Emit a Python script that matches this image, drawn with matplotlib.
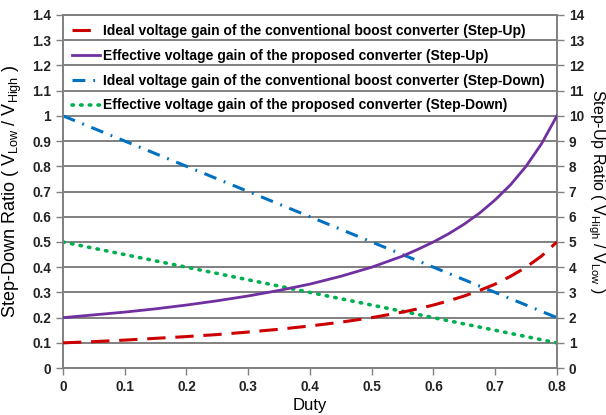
import matplotlib.pyplot as plt
import numpy as np

# Data
duty = [0.0, 0.05, 0.1, 0.15, 0.2, 0.25, 0.3, 0.35, 0.4, 0.45, 0.5, 0.55,
        0.575, 0.6, 0.625, 0.65, 0.675, 0.7, 0.725, 0.75, 0.775, 0.8]
boost_step_up = [1.0, 1.05, 1.11, 1.18, 1.25, 1.33, 1.43, 1.54, 1.67, 1.82, 2.0, 2.22,
                 2.35, 2.5, 2.67, 2.86, 3.08, 3.33, 3.64, 4.0, 4.44, 5.0]
proposed_step_up = [2.0, 2.11, 2.22, 2.35, 2.5, 2.67, 2.86, 3.08, 3.33, 3.64, 4.0, 4.44,
                    4.71, 5.0, 5.33, 5.71, 6.15, 6.67, 7.27, 8.0, 8.89, 10.0]

duty_lin = [0.0, 0.1, 0.2, 0.3, 0.4, 0.5, 0.6, 0.7, 0.8]
boost_step_down = [1.0, 0.9, 0.8, 0.7, 0.6, 0.5, 0.4, 0.3, 0.2]
proposed_step_down = [0.5, 0.45, 0.4, 0.35, 0.3, 0.25, 0.2, 0.15, 0.1]

labels = [
    "Ideal voltage gain of the conventional boost converter (Step-Up)",
    "Effective voltage gain of the proposed converter (Step-Up)",
    "Ideal voltage gain of the conventional boost converter (Step-Down)",
    "Effective voltage gain of the proposed converter (Step-Down)",
]

GRID = "#808080"
plt.rcParams["font.family"] = ["Liberation Sans", "DejaVu Sans"]

fig = plt.figure(figsize=(6.06, 4.15), dpi=100)
ax = fig.add_axes([0.104, 0.113, 0.815, 0.851])
ax2 = ax.twinx()

ax.set_xlim(0, 0.8)
ax.set_ylim(0, 1.4)
ax2.set_ylim(0, 14)

# Gridlines
ax.set_axisbelow(True)
ax.yaxis.grid(True, color=GRID, linewidth=1.4)

l3, = ax.plot(duty_lin, boost_step_down, color="#0070C0", linewidth=2.2,
              dashes=(4.2, 2.6, 0.6, 2.6), zorder=3)
l4, = ax.plot(duty_lin, proposed_step_down, color="#00B050", linewidth=2.6,
              linestyle=(0, (0.4, 2.0)), dash_capstyle="round", zorder=3)
l1, = ax2.plot(duty, boost_step_up, color="#CC0000", linewidth=2.2,
               dashes=(6, 3.2), zorder=3)
l2, = ax2.plot(duty, proposed_step_up, color="#7030A0", linewidth=2.0, zorder=3)

ax.set_xticks(np.arange(0, 0.81, 0.1))
ax.set_xticklabels(["0", "0.1", "0.2", "0.3", "0.4", "0.5", "0.6", "0.7", "0.8"])
ax.set_yticks(np.arange(0, 1.41, 0.1))
ax.set_yticklabels(["0", "0.1", "0.2", "0.3", "0.4", "0.5", "0.6", "0.7", "0.8",
                    "0.9", "1", "1.1", "1.2", "1.3", "1.4"])
ax2.set_yticks(range(0, 15))

for a in (ax, ax2):
    for s in a.spines.values():
        s.set_color(GRID)
        s.set_linewidth(1.2)
    a.tick_params(direction="out", length=5, color=GRID, width=1,
                  labelsize=9.8, labelcolor="#222222")
    for t in a.get_xticklabels() + a.get_yticklabels():
        t.set_fontweight("bold")

ax.set_xlabel("Duty", fontsize=12, labelpad=3)
ax.set_ylabel(r"Step-Down Ratio ( V$_{\mathregular{Low}}$ / V$_{\mathregular{High}}$ )",
              fontsize=13, labelpad=6)
ax2.set_ylabel(r"Step-Up Ratio ( V$_{\mathregular{High}}$ / V$_{\mathregular{Low}}$ )",
               fontsize=11.5, rotation=270, labelpad=16.5)

ax2.legend([l1, l2, l3, l4], labels, loc="upper left", frameon=False,
           prop={"weight": "bold", "size": 10}, handlelength=2.0,
           handletextpad=0.2, labelspacing=0.78, borderaxespad=0.25,
           bbox_to_anchor=(0.0, 1.0))

fig.savefig("out.png", dpi=100)
